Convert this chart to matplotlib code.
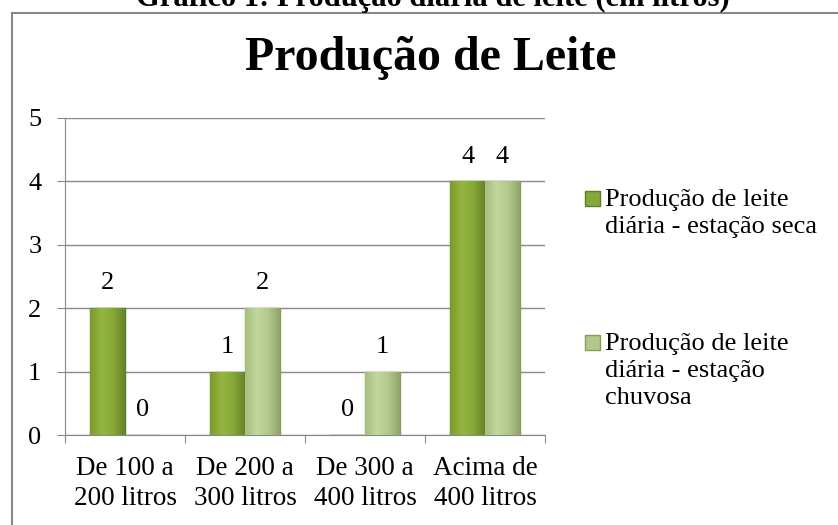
import matplotlib.pyplot as plt
import numpy as np
from matplotlib.colors import LinearSegmentedColormap
from matplotlib.patches import Rectangle

categorias = ["De 100 a\n200 litros", "De 200 a\n300 litros", "De 300 a\n400 litros", "Acima de\n400 litros"]
seca = [2, 1, 0, 4]
chuvosa = [0, 2, 1, 4]
serie_nomes = ["Produção de leite\ndiária - estação seca", "Produção de leite\ndiária - estação\nchuvosa"]

plt.rcParams['font.family'] = ['Liberation Serif', 'DejaVu Serif']

W, H = 838, 525
fig = plt.figure(figsize=(W/100, H/100), dpi=100)
ax = fig.add_axes([65/W, 1 - 435/H, 480/W, 317/H])

x = np.arange(len(categorias)) + 0.5
w = 0.29
b1 = ax.bar(x - w/2, seca, w, color='#86a83a', edgecolor='#5f7d22', linewidth=1, zorder=3)
b2 = ax.bar(x + w/2, chuvosa, w, color='#b2c98a', edgecolor='#859d5c', linewidth=1, zorder=3)

# gradiente nas barras (efeito do Excel)
cm_seca = LinearSegmentedColormap.from_list('seca', ['#7a9a2e', '#95b63f', '#87a837', '#67852a'])
cm_chuv = LinearSegmentedColormap.from_list('chuv', ['#a6be7e', '#c2d89c', '#b2c98b', '#90a56b'])
grad = np.linspace(0, 1, 64).reshape(1, -1)
for barras, cm in [(b1, cm_seca), (b2, cm_chuv)]:
    for r in barras:
        if r.get_height() <= 0:
            continue
        x0, y0 = r.get_x(), r.get_y()
        im = ax.imshow(grad, cmap=cm, aspect='auto', zorder=3.2,
                       extent=[x0, x0 + r.get_width(), y0, y0 + r.get_height()])
        im.set_clip_path(r)

# rótulos de dados
for xi, v in zip(x - w/2, seca):
    ax.annotate(str(v), (xi, v), xytext=(0, 10), textcoords='offset points',
                ha='center', va='bottom', fontsize=19)
for xi, v in zip(x + w/2, chuvosa):
    ax.annotate(str(v), (xi, v), xytext=(0, 10), textcoords='offset points',
                ha='center', va='bottom', fontsize=19)

ax.set_xlim(0, 4)
ax.set_ylim(0, 5)
ax.set_yticks(range(6))
ax.set_xticks([0, 1, 2, 3, 4], minor=False)
ax.set_xticklabels([])
ax.set_xticks(x, minor=True)
ax.set_xticklabels(categorias, minor=True, fontsize=19.5, linespacing=1.26)
ax.tick_params(axis='x', which='minor', length=0, pad=15)
ax.tick_params(axis='x', which='major', length=6, color='#888888', direction='out')
ax.tick_params(axis='y', length=6, color='#888888', labelsize=19, pad=11)
ax.grid(axis='y', color='#888888', linewidth=1, zorder=0)
for s in ['top', 'right']:
    ax.spines[s].set_visible(False)
ax.spines['left'].set_color('#888888')
ax.spines['bottom'].set_color('#888888')

fig.text(431/W, 1 - 58/H, "Produção de Leite", ha='center', va='center',
         fontsize=34.5, fontweight='bold')
# legenda da figura no documento, cortada no topo da imagem
fig.text(433/W, 1 - 6/H, "Gráfico 1: Produção diária de leite (em litros)", ha='center',
         va='baseline', fontsize=22, fontweight='bold')

# legenda
leg_cores = ['#86a83a', '#b2c98a']
leg_bordas = ['#5f7d22', '#859d5c']
leg_topo = [191, 335]
for nome, cor, borda, topo in zip(serie_nomes, leg_cores, leg_bordas, leg_topo):
    fig.add_artist(Rectangle((585/W, 1 - (topo + 15)/H), 15/W, 15/H, transform=fig.transFigure,
                             facecolor=cor, edgecolor=borda, linewidth=1))
    fig.text(605/W, 1 - (topo - 2)/H, nome, ha='left', va='top', fontsize=19, linespacing=1.28)

# moldura do gráfico
fig.add_artist(plt.Line2D([12/W, 12/W], [0, 1 - 13/H], color='#888888', linewidth=1.5))
fig.add_artist(plt.Line2D([12/W, 1], [1 - 13/H, 1 - 13/H], color='#888888', linewidth=1.5))

fig.savefig('out.png', dpi=100)
